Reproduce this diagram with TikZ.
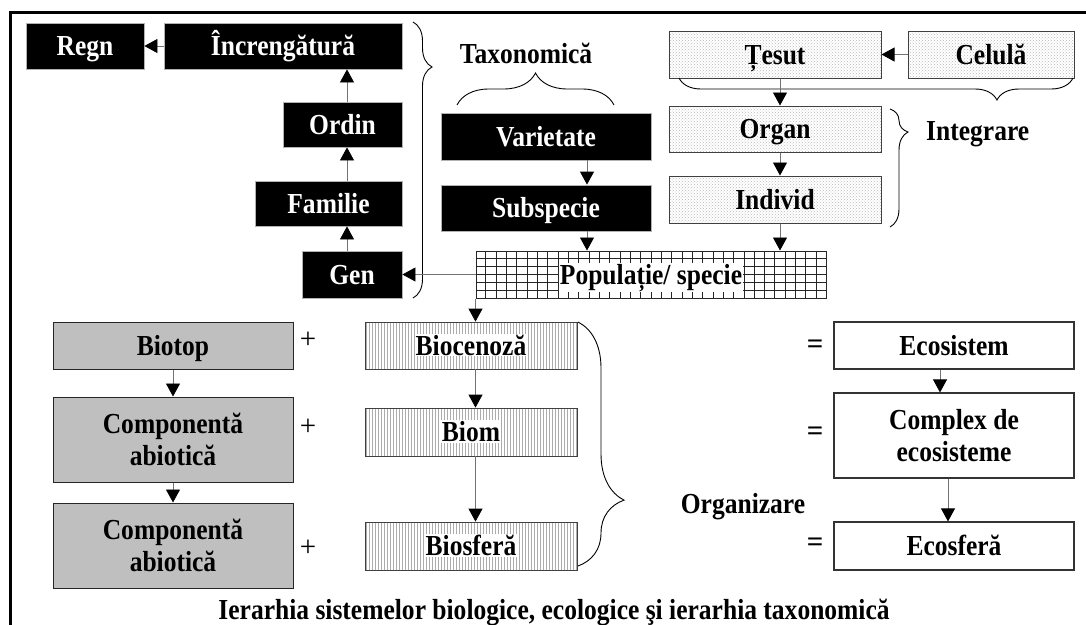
\documentclass[tikz,border=0pt]{standalone}
\usepackage{fontspec}
\setmainfont{Liberation Serif}
\usetikzlibrary{arrows.meta,patterns,decorations.pathreplacing,backgrounds,calc}

% narrow set of the bold serif text
\newcommand\sx[1]{\scalebox{0.88}[1]{#1}}
% two centred lines, first baseline on top
\newcommand\twol[2]{\sx{\begin{tabular}[t]{@{}c@{}}#1\\#2\end{tabular}}}
% white patch behind a label that sits on a patterned box
\newcommand\wbg[1]{{\setlength{\fboxsep}{1pt}\colorbox{white}{#1}}}

\tikzset{
  txt/.style={font=\bfseries\fontsize{29}{32}\selectfont, inner sep=0pt},
  one/.style={text height=19pt, text depth=0pt},
  two/.style={text height=19pt, text depth=32pt},
  sz/.style 2 args={minimum width=#1pt, minimum height=#2pt},
  blk/.style={txt, one, fill=black, draw=gray!60, line width=0.8pt, text=white},
  dotbox/.style={txt, one, draw=black!75, line width=1pt, pattern=crosshatch dots, pattern color=gray!55},
  greybox/.style={txt, one, fill=gray!50, draw=black!85, line width=1pt},
  stripebox/.style={txt, one, draw=black!75, line width=0.8pt, pattern=vertical lines, pattern color=gray!65},
  plainbox/.style={txt, one, draw=black!80, line width=1.2pt},
  gridbox/.style={txt, one, draw=black!85, line width=1pt},
  sym/.style={font=\fontsize{29}{32}\selectfont, inner sep=0pt},
  arr/.style={draw=black!55, line width=0.8pt, -{Triangle[width=14pt,length=13pt,color=black,fill=black]}},
  brc/.style 2 args={decorate, decoration={brace, amplitude=#1, aspect=#2}, draw=black, line width=0.9pt},
}

\begin{document}
\begin{tikzpicture}[x=1pt,y=-1pt]
\useasboundingbox (0,0) rectangle (1086,624);
\clip (0,0) rectangle (1086,624);

% outer frame
\draw[line width=2.6pt] (10.5,700) -- (10.5,12.5) -- (1100,12.5);

% taxonomic ranks
\node[blk, sz={118}{46}] (regn) at (85,46) {\sx{Regn}};
\node[blk, sz={238}{46}] (incr) at (283,46) {\sx{Încrengătură}};
\node[blk, sz={119}{45}] (ordin) at (342.5,124.5) {\sx{Ordin}};
\node[blk, sz={147}{45}] (fam) at (328.5,203.5) {\sx{Familie}};
\node[blk, sz={100}{47}] (gen) at (352,274.5) {\sx{Gen}};
\node[blk, sz={210}{47}] (var) at (546,136.5) {\sx{Varietate}};
\node[blk, sz={210}{46}] (subsp) at (546,208) {\sx{Subspecie}};

% levels of integration
\node[dotbox, sz={212}{47}] (tes) at (775,54.5) {\sx{Țesut}};
\node[dotbox, sz={166}{47}] (cel) at (991,54.5) {\sx{Celulă}};
\node[dotbox, sz={212}{46}] (organ) at (775,129) {\sx{Organ}};
\node[dotbox, sz={212}{47}] (indiv) at (775,199.5) {\sx{Individ}};

% population / species with its grid
\node[gridbox, sz={350}{47}] (pop) at (651,274.5) {\wbg{\sx{Populație/ specie}}};
\begin{scope}[on background layer]
  \foreach \i in {1,...,33}
    \draw[black!85, line width=0.8pt] ($(pop.north west)!\i/34!(pop.north east)$) -- ($(pop.south west)!\i/34!(pop.south east)$);
  \foreach \j in {1,...,5}
    \draw[black!85, line width=0.8pt] ($(pop.north west)!\j/6!(pop.south west)$) -- ($(pop.north east)!\j/6!(pop.south east)$);
\end{scope}

% ecological levels
\node[greybox, sz={240}{47}] (biotop) at (173,345.5) {\sx{Biotop}};
\node[greybox, two, sz={240}{85}] (comp1) at (173,439.5) {\twol{Componentă}{abiotică}};
\node[greybox, two, sz={240}{85}] (comp2) at (173,545.5) {\twol{Componentă}{abiotică}};
\node[stripebox, sz={212}{47}] (bioc) at (471,345.5) {\wbg{\sx{Biocenoză}}};
\node[stripebox, sz={212}{48}] (biom) at (471,432) {\wbg{\sx{Biom}}};
\node[stripebox, sz={212}{48}] (biosf) at (471,546) {\wbg{\sx{Biosferă}}};
\node[plainbox, sz={240}{47}] (ecos) at (954,345.5) {\sx{Ecosistem}};
\node[plainbox, two, sz={240}{85}] (cplx) at (954,435.5) {\twol{Complex de}{ecosisteme}};
\node[plainbox, sz={240}{48}] (ecosf) at (954,546) {\sx{Ecosferă}};

% operators
\node[sym] (p1) at (308,340) {+};
\node[sym] (p2) at (308,427) {+};
\node[sym] (p3) at (308,548) {+};
\node[txt] (q1) at (815,347) {=};
\node[txt] (q2) at (815,434) {=};
\node[txt] (q3) at (815,545) {=};

% group labels
\node[txt, anchor=base] (tax) at (526,63) {\sx{Taxonomică}};
\node[txt, anchor=base west] (integ) at (926,140) {\sx{Integrare}};
\node[txt, anchor=base] (organiz) at (743,513) {\sx{Organizare}};
\node[txt, anchor=base] (capt) at (554,619) {\sx{Ierarhia sistemelor biologice, ecologice şi ierarhia taxonomică}};

% braces
\draw[brc={19pt}{0.163}] (413,22) -- (413,298);
\draw[brc={32pt}{0.5}] (457,105) -- (614,105);
\draw[brc={22pt}{0.193}] (1073,78) -- (679,78);
\draw[brc={18pt}{0.195}] (890,109) -- (890,227);
\draw[brc={46pt}{0.73}] (578,322) -- (578,566);

% arrow columns
\coordinate (ax) at (347,0);
\coordinate (bx) at (587,0);
\coordinate (cx) at (780,0);
\coordinate (ex1) at (940,0);
\coordinate (ex2) at (948,0);

% connectors
\draw[arr] (incr.west) -- (regn.east);
\draw[arr] (ordin.north -| ax) -- (incr.south -| ax);
\draw[arr] (fam.north -| ax) -- (ordin.south -| ax);
\draw[arr] (gen.north -| ax) -- (fam.south -| ax);
\draw[arr] (var.south -| bx) -- (subsp.north -| bx);
\draw[arr] (subsp.south -| bx) -- (pop.north -| bx);
\draw[arr] (cel.west) -- (tes.east);
\draw[arr] (tes.south -| cx) -- (organ.north -| cx);
\draw[arr] (organ.south -| cx) -- (indiv.north -| cx);
\draw[arr] (indiv.south -| cx) -- (pop.north -| cx);
\draw[arr] (pop.west) -- (gen.east);
\draw[arr] (pop.south west) -- (pop.south west |- bioc.north);
\draw[arr] (bioc.south -| pop.west) -- (biom.north -| pop.west);
\draw[arr] (biom.south -| pop.west) -- (biosf.north -| pop.west);
\draw[arr] (biotop.south) -- (comp1.north);
\draw[arr] (comp1.south) -- (comp2.north);
\draw[arr] (ecos.south -| ex1) -- (cplx.north -| ex1);
\draw[arr] (cplx.south -| ex2) -- (ecosf.north -| ex2);
\end{tikzpicture}
\end{document}
